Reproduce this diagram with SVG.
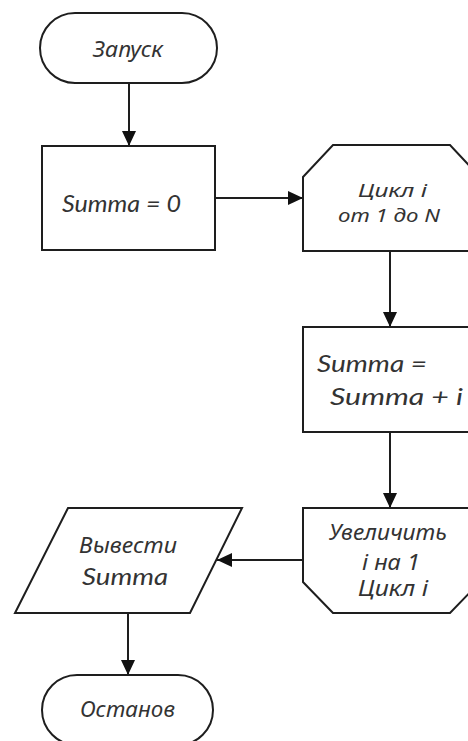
<svg xmlns="http://www.w3.org/2000/svg" width="468" height="741" viewBox="0 0 468 741">
  <style>
    .shape { fill: #ffffff; stroke: #1e1e1e; stroke-width: 2; }
    .link { fill: none; stroke: #1e1e1e; stroke-width: 2; }
    .cyr { font-family: "Noto Sans", "Liberation Sans", sans-serif; font-style: italic; font-weight: 400; font-size: 21px; fill: #333333; }
    .lat { font-family: Lato, "Open Sans", "Liberation Sans", sans-serif; font-style: italic; font-weight: 400; font-size: 24px; fill: #333333; }
    .tight { font-size: 18px; }
  </style>
  <defs>
    <marker id="arrow" markerUnits="userSpaceOnUse" markerWidth="16" markerHeight="16" viewBox="0 0 16 16" refX="15" refY="8" orient="auto">
      <path d="M0,1 L15,8 L0,15 Z" fill="#111111"/>
    </marker>
  </defs>
  <rect width="468" height="741" fill="#ffffff"/>

  <!-- connectors -->
  <g id="connectors">
    <line class="link" x1="129" y1="83" x2="129" y2="146" marker-end="url(#arrow)"/>
    <line class="link" x1="215" y1="198" x2="303" y2="198" marker-end="url(#arrow)"/>
    <line class="link" x1="390" y1="251" x2="390" y2="327" marker-end="url(#arrow)"/>
    <line class="link" x1="390" y1="432" x2="390" y2="508" marker-end="url(#arrow)"/>
    <line class="link" x1="303" y1="560" x2="217" y2="560" marker-end="url(#arrow)"/>
    <line class="link" x1="128" y1="613" x2="128" y2="675" marker-end="url(#arrow)"/>
  </g>

  <!-- start terminator -->
  <g id="start">
    <rect class="shape" x="40" y="13" width="177" height="70" rx="35" ry="35"/>
    <text class="cyr" x="93" y="57" textLength="70" lengthAdjust="spacingAndGlyphs">Запуск</text>
  </g>

  <!-- initialise sum -->
  <g id="init">
    <rect class="shape" x="42" y="146" width="173" height="104"/>
    <text class="lat" x="62" y="212" textLength="119" lengthAdjust="spacingAndGlyphs">Summa = 0</text>
  </g>

  <!-- loop start -->
  <g id="loop-start">
    <polygon class="shape" points="303,177 333,145 450,145 480,177 480,251 303,251"/>
    <text class="cyr tight" x="358" y="197" textLength="69" lengthAdjust="spacingAndGlyphs">Цикл  i</text>
    <text class="cyr tight" x="338" y="222" textLength="102" lengthAdjust="spacingAndGlyphs">от 1 до N</text>
  </g>

  <!-- accumulate -->
  <g id="accumulate">
    <rect class="shape" x="303" y="327" width="177" height="105"/>
    <text class="lat" x="317" y="372" textLength="110" lengthAdjust="spacingAndGlyphs">Summa =</text>
    <text class="lat" x="330" y="405" textLength="133" lengthAdjust="spacingAndGlyphs">Summa +  i</text>
  </g>

  <!-- loop end -->
  <g id="loop-end">
    <polygon class="shape" points="303,508 480,508 480,582 450,613 333,613 303,582"/>
    <text class="cyr" x="329" y="540" textLength="118" lengthAdjust="spacingAndGlyphs">Увеличить</text>
    <text class="cyr" x="362" y="570" textLength="58" lengthAdjust="spacingAndGlyphs">i на 1</text>
    <text class="cyr" x="358" y="596" textLength="70" lengthAdjust="spacingAndGlyphs">Цикл  i</text>
  </g>

  <!-- output -->
  <g id="output">
    <polygon class="shape" points="68,508 242,508 190,613 15,613"/>
    <text class="cyr" x="79" y="553" textLength="98" lengthAdjust="spacingAndGlyphs">Вывести</text>
    <text class="lat" x="82" y="585" textLength="86" lengthAdjust="spacingAndGlyphs">Summa</text>
  </g>

  <!-- stop terminator -->
  <g id="stop">
    <rect class="shape" x="42" y="675" width="171" height="70" rx="35" ry="35"/>
    <text class="cyr" x="80" y="717" textLength="95" lengthAdjust="spacingAndGlyphs">Останов</text>
  </g>
</svg>
